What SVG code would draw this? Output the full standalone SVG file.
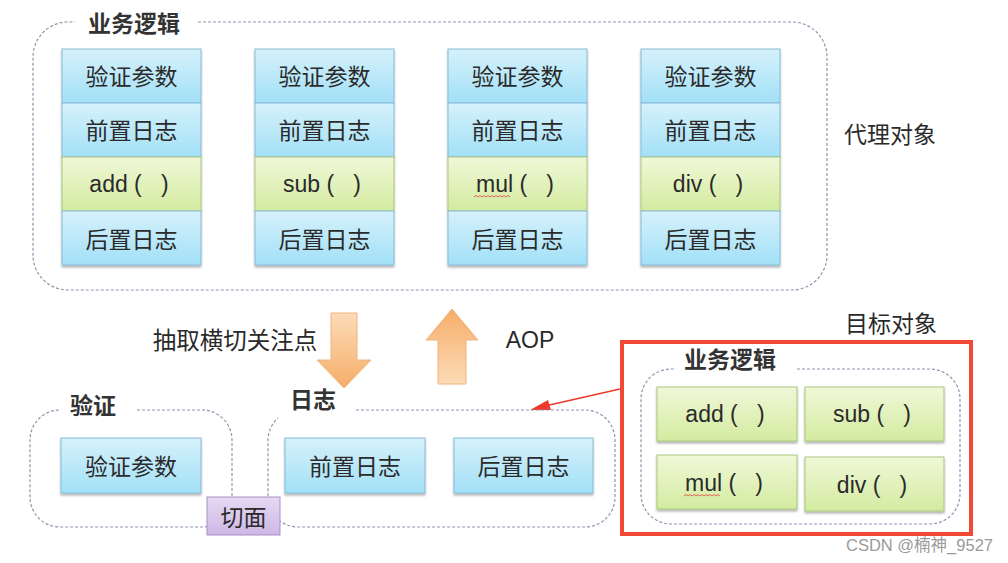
<svg xmlns="http://www.w3.org/2000/svg" width="1008" height="563" viewBox="0 0 1008 563">
<defs>
<linearGradient id="gb" x1="0" y1="0" x2="0" y2="1"><stop offset="0" stop-color="#d6f1fb"/><stop offset="1" stop-color="#a2e0f7"/></linearGradient>
<linearGradient id="gg" x1="0" y1="0" x2="0" y2="1"><stop offset="0" stop-color="#f0f8d8"/><stop offset="1" stop-color="#d3eba0"/></linearGradient>
<linearGradient id="gp" x1="0" y1="0" x2="0" y2="1"><stop offset="0" stop-color="#e6d9f2"/><stop offset="1" stop-color="#cdb8e6"/></linearGradient>
<linearGradient id="go" x1="0" y1="0" x2="0" y2="1"><stop offset="0" stop-color="#fcdcb8"/><stop offset="1" stop-color="#f6ad68"/></linearGradient>
<linearGradient id="go2" x1="0" y1="1" x2="0" y2="0"><stop offset="0" stop-color="#fcdcb8"/><stop offset="1" stop-color="#f6ad68"/></linearGradient>
<filter id="sh" x="-10%" y="-10%" width="120%" height="130%"><feDropShadow dx="0" dy="2" stdDeviation="1.2" flood-color="#000" flood-opacity="0.3"/></filter>
<style>
.b{fill:url(#gb);stroke:#86bcd8;stroke-width:1}
.g{fill:url(#gg);stroke:#a9c77e;stroke-width:1}
.p{fill:url(#gp);stroke:#a890c9;stroke-width:1}
.d{fill:none;stroke:#8c98ae;stroke-width:1.2;stroke-dasharray:3 2}
.t{font-family:"Noto Sans CJK SC","Liberation Sans",sans-serif;font-size:23px;fill:#2a2a2a;text-anchor:middle;dominant-baseline:central}
.l{font-family:"Liberation Sans","Noto Sans CJK SC",sans-serif;font-size:23px;fill:#2a2a2a;text-anchor:middle;dominant-baseline:central}
.h{font-family:"Noto Sans CJK SC",sans-serif;font-size:23px;fill:#333;font-weight:bold;dominant-baseline:central}
</style>
</defs>
<rect width="1008" height="563" fill="#ffffff"/>

<g id="proxy-container">
<path class="d" d="M198,22 H792 A35,35 0 0 1 827,57 V255 A35,35 0 0 1 792,290 H68 A35,35 0 0 1 33,255 V57 A35,35 0 0 1 68,22 H75"/>
<text class="h" x="88" y="22">业务逻辑</text>
</g>

<g id="col-add" filter="url(#sh)">
<rect class="b" x="62" y="49" width="139" height="54"/><rect class="b" x="62" y="103" width="139" height="54"/><rect class="g" x="62" y="157" width="139" height="54"/><rect class="b" x="62" y="211" width="139" height="54"/>
</g>
<g id="col-add-text"><text class="t" x="131.5" y="75">验证参数</text><text class="t" x="131.5" y="129">前置日志</text><text class="l" x="129" y="184" xml:space="preserve">add (   )</text><text class="t" x="131.5" y="238">后置日志</text></g>

<g id="col-sub" filter="url(#sh)">
<rect class="b" x="255" y="49" width="139" height="54"/><rect class="b" x="255" y="103" width="139" height="54"/><rect class="g" x="255" y="157" width="139" height="54"/><rect class="b" x="255" y="211" width="139" height="54"/>
</g>
<g id="col-sub-text"><text class="t" x="324.5" y="75">验证参数</text><text class="t" x="324.5" y="129">前置日志</text><text class="l" x="322" y="184" xml:space="preserve">sub (   )</text><text class="t" x="324.5" y="238">后置日志</text></g>

<g id="col-mul" filter="url(#sh)">
<rect class="b" x="448" y="49" width="139" height="54"/><rect class="b" x="448" y="103" width="139" height="54"/><rect class="g" x="448" y="157" width="139" height="54"/><rect class="b" x="448" y="211" width="139" height="54"/>
</g>
<g id="col-mul-text"><text class="t" x="517.5" y="75">验证参数</text><text class="t" x="517.5" y="129">前置日志</text><text class="l" x="515" y="184" xml:space="preserve">mul (   )</text><path d="M474,197 l2,-1.5 l2,1.5 l2,-1.5 l2,1.5 l2,-1.5 l2,1.5 l2,-1.5 l2,1.5 l2,-1.5 l2,1.5 l2,-1.5 l2,1.5 l2,-1.5 l2,1.5 l2,-1.5 l2,1.5 l2,-1.5 l2,1.5" fill="none" stroke="#e04040" stroke-width="0.8"/><text class="t" x="517.5" y="238">后置日志</text></g>

<g id="col-div" filter="url(#sh)">
<rect class="b" x="641" y="49" width="139" height="54"/><rect class="b" x="641" y="103" width="139" height="54"/><rect class="g" x="641" y="157" width="139" height="54"/><rect class="b" x="641" y="211" width="139" height="54"/>
</g>
<g id="col-div-text"><text class="t" x="710.5" y="75">验证参数</text><text class="t" x="710.5" y="129">前置日志</text><text class="l" x="708" y="184" xml:space="preserve">div (   )</text><text class="t" x="710.5" y="238">后置日志</text></g>

<g id="label-proxy"><text class="t" x="890" y="133">代理对象</text></g>

<g id="connectors">
<path d="M331,313 H357 V360 H371 L344,388 L317,360 H331 Z" fill="url(#go)" stroke="#f2b27a" stroke-width="1"/>
<path d="M452,309 L478,340 H466 V384 H438 V340 H426 Z" fill="url(#go2)" stroke="#f2b27a" stroke-width="1"/>
<line x1="620" y1="389" x2="545" y2="406" stroke="#ee3a2a" stroke-width="1.6"/>
<path d="M530,410 L548,400 L551,410 Z" fill="#ee3a2a"/>
</g>
<g id="label-extract"><text class="t" x="235" y="339" style="font-size:23.5px">抽取横切关注点</text></g>
<g id="label-aop"><text class="l" x="530" y="340">AOP</text></g>

<g id="validate-container">
<path class="d" d="M137,410 H202 A30,30 0 0 1 232,440 V497 A30,30 0 0 1 202,527 H60 A30,30 0 0 1 30,497 V440 A30,30 0 0 1 60,410 H60"/>
<text class="h" x="70" y="404">验证</text>
<rect class="b" x="61" y="438" width="140" height="55" filter="url(#sh)"/>
<text class="t" x="131" y="465">验证参数</text>
</g>

<g id="log-container">
<path class="d" d="M356,410 H585 A30,30 0 0 1 615,440 V497 A30,30 0 0 1 585,527 H298 A30,30 0 0 1 268,497 V440 A30,30 0 0 1 278,418"/>
<text class="h" x="290" y="398">日志</text>
<rect class="b" x="285" y="438" width="140" height="55" filter="url(#sh)"/>
<text class="t" x="355" y="465">前置日志</text>
<rect class="b" x="454" y="438" width="139" height="55" filter="url(#sh)"/>
<text class="t" x="523.5" y="465">后置日志</text>
</g>

<g id="aspect">
<rect class="p" x="207" y="497" width="73" height="38"/>
<text class="t" x="243.5" y="516">切面</text>
</g>

<g id="target">
<text class="t" x="891" y="322">目标对象</text>
<rect x="622" y="342" width="349" height="192" fill="none" stroke="#f04a36" stroke-width="4"/>
<path class="d" d="M797,369 H930 A30,30 0 0 1 960,399 V494 A30,30 0 0 1 930,524 H671 A30,30 0 0 1 641,494 V399 A30,30 0 0 1 671,369 H676"/>
<text class="h" x="684" y="358">业务逻辑</text>
<g filter="url(#sh)">
<rect class="g" x="657" y="387" width="140" height="54"/>
<rect class="g" x="805" y="387" width="139" height="54"/>
<rect class="g" x="657" y="455" width="140" height="54"/>
<rect class="g" x="805" y="457" width="139" height="54"/>
</g>
<text class="l" x="725" y="414" xml:space="preserve">add (   )</text>
<text class="l" x="872" y="414" xml:space="preserve">sub (   )</text>
<text class="l" x="724" y="483" xml:space="preserve">mul (   )</text>
<path d="M684,496 l2,-1.5 l2,1.5 l2,-1.5 l2,1.5 l2,-1.5 l2,1.5 l2,-1.5 l2,1.5 l2,-1.5 l2,1.5 l2,-1.5 l2,1.5 l2,-1.5 l2,1.5 l2,-1.5 l2,1.5 l2,-1.5 l2,1.5" fill="none" stroke="#e04040" stroke-width="0.8"/>
<text class="l" x="872" y="485" xml:space="preserve">div (   )</text>
</g>

<text x="993" y="545" font-family="'Liberation Sans','Noto Sans CJK SC',sans-serif" font-size="16.5" fill="#9a9a9a" text-anchor="end" dominant-baseline="central">CSDN @楠神_9527</text>
</svg>
